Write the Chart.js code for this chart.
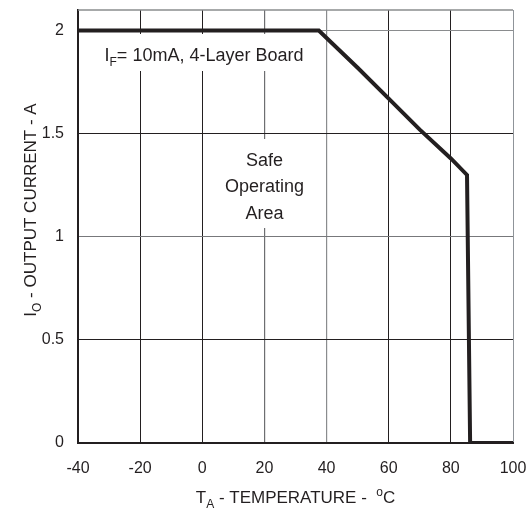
<!DOCTYPE html>
<html>
<head>
<meta charset="utf-8">
<script src="https://cdn.jsdelivr.net/npm/chart.js@4.4.1/dist/chart.umd.min.js"></script>
<style>
  html, body { margin: 0; padding: 0; background: #fff; }
  #wrap { width: 532px; height: 510px; }
</style>
</head>
<body>
<div id="wrap"><canvas id="soaChart" width="532" height="510"></canvas></div>
<script>
//Curve
const temperatures = [-40, 37.5, 50, 60, 70, 80, 85.2, 86.2, 100];
const outputCurrent = [2, 2, 1.82, 1.67, 1.52, 1.38, 1.30, 0, 0];

//Axis ticks
const xTicks = [-40, -20, 0, 20, 40, 60, 80, 100];
const yTicks = [0, 0.5, 1, 1.5, 2];

const FONT = "'Liberation Sans', Arial, Helvetica, sans-serif";
const INK = "#231f20";

//Grid line shades (some lines in the original are lighter)
const xGridColors = {"-40": INK, "-20": INK, "0": INK, "20": "#6d6e71", "40": "#8a8c8e", "60": INK, "80": INK, "100": "#8f9499"};
const yGridColors = {"0": INK, "0.5": INK, "1": "#77787b", "1.5": INK, "2": "#8a8c8e"};

//Draw text made of pieces (for sub/superscripts)
function drawRich(ctx, parts, x, y) {
    let total = 0;
    parts.forEach(p => {
        ctx.font = p.size + "px " + FONT;
        p.w = ctx.measureText(p.t).width;
        total += p.w;
    });
    let cx = x - total / 2;
    ctx.textAlign = "left";
    ctx.textBaseline = "alphabetic";
    parts.forEach(p => {
        ctx.font = p.size + "px " + FONT;
        ctx.fillText(p.t, cx, y + (p.dy || 0));
        cx += p.w;
    });
}

const extrasPlugin = {
    id: "extras",
    beforeDatasetsDraw(chart) {
        const {ctx, chartArea} = chart;
        ctx.save();
        //Top frame line
        ctx.strokeStyle = "#8a8c8e";
        ctx.lineWidth = 1.5;
        ctx.beginPath();
        ctx.moveTo(chartArea.left, chartArea.top);
        ctx.lineTo(chartArea.right, chartArea.top);
        ctx.stroke();

        //White boxes behind the notes
        ctx.fillStyle = "#fff";
        ctx.fillRect(chartArea.left + 17, 34, 220, 37);
        ctx.fillRect(chartArea.left + 140, 139, 92, 89);

        ctx.fillStyle = INK;
        drawRich(ctx, [
            {t: "I", size: 18},
            {t: "F", size: 12, dy: 5},
            {t: "= 10mA, 4-Layer Board", size: 18}
        ], chartArea.left + 126, 61);

        ctx.font = "18px " + FONT;
        ctx.textAlign = "center";
        ctx.textBaseline = "alphabetic";
        const cx = chart.scales.x.getPixelForValue(20);
        ctx.fillText("Safe", cx, 166);
        ctx.fillText("Operating", cx, 192);
        ctx.fillText("Area", cx, 219);
        ctx.restore();
    },
    afterDraw(chart) {
        const {ctx, chartArea} = chart;
        ctx.save();
        ctx.fillStyle = INK;
        //X axis title
        drawRich(ctx, [
            {t: "T", size: 17},
            {t: "A", size: 12, dy: 5},
            {t: " - TEMPERATURE -  ", size: 17},
            {t: "o", size: 12, dy: -7},
            {t: "C", size: 17}
        ], (chartArea.left + chartArea.right) / 2, 503);

        //Y axis title
        ctx.translate(36, 210);
        ctx.rotate(-Math.PI / 2);
        drawRich(ctx, [
            {t: "I", size: 17},
            {t: "O", size: 12, dy: 5},
            {t: " - OUTPUT CURRENT - A", size: 17}
        ], 0, 0);
        ctx.restore();
    }
};

const ctx = document.getElementById("soaChart").getContext("2d");
new Chart(ctx, {
    type: "line",
    data: {
        datasets: [{
            label: "Output current",
            data: temperatures.map((t, i) => ({x: t, y: outputCurrent[i]})),
            borderColor: INK,
            borderWidth: 4,
            pointRadius: 0,
            tension: 0,
            fill: false
        }]
    },
    options: {
        responsive: false,
        animation: false,
        layout: {padding: {top: 10, right: 19, left: 0, bottom: 0}},
        plugins: {legend: {display: false}, tooltip: {enabled: false}},
        scales: {
            x: {
                type: "linear",
                min: -40,
                max: 100,
                afterBuildTicks: s => { s.ticks = xTicks.map(v => ({value: v})); },
                afterFit: s => { s.height = 67; s.paddingLeft = 0; s.paddingRight = 0; },
                ticks: {color: INK, font: {family: FONT, size: 16}, padding: 16, maxRotation: 0},
                grid: {
                    drawTicks: false,
                    color: c => xGridColors[String(c.tick.value)] || INK,
                    lineWidth: c => (c.tick.value === 20 || c.tick.value === 40) ? 1.2 : 1
                },
                border: {color: INK, width: 2}
            },
            y: {
                min: 0,
                max: 2.1,
                afterBuildTicks: s => { s.ticks = yTicks.map(v => ({value: v})); },
                afterFit: s => { s.width = 78; s.paddingTop = 0; s.paddingBottom = 0; },
                ticks: {
                    color: INK,
                    font: {family: FONT, size: 16},
                    padding: 14,
                    callback: v => String(v)
                },
                grid: {
                    drawTicks: false,
                    color: c => yGridColors[String(c.tick.value)] || INK,
                    lineWidth: 1
                },
                border: {color: INK, width: 2}
            }
        }
    },
    plugins: [extrasPlugin]
});
</script>
</body>
</html>
